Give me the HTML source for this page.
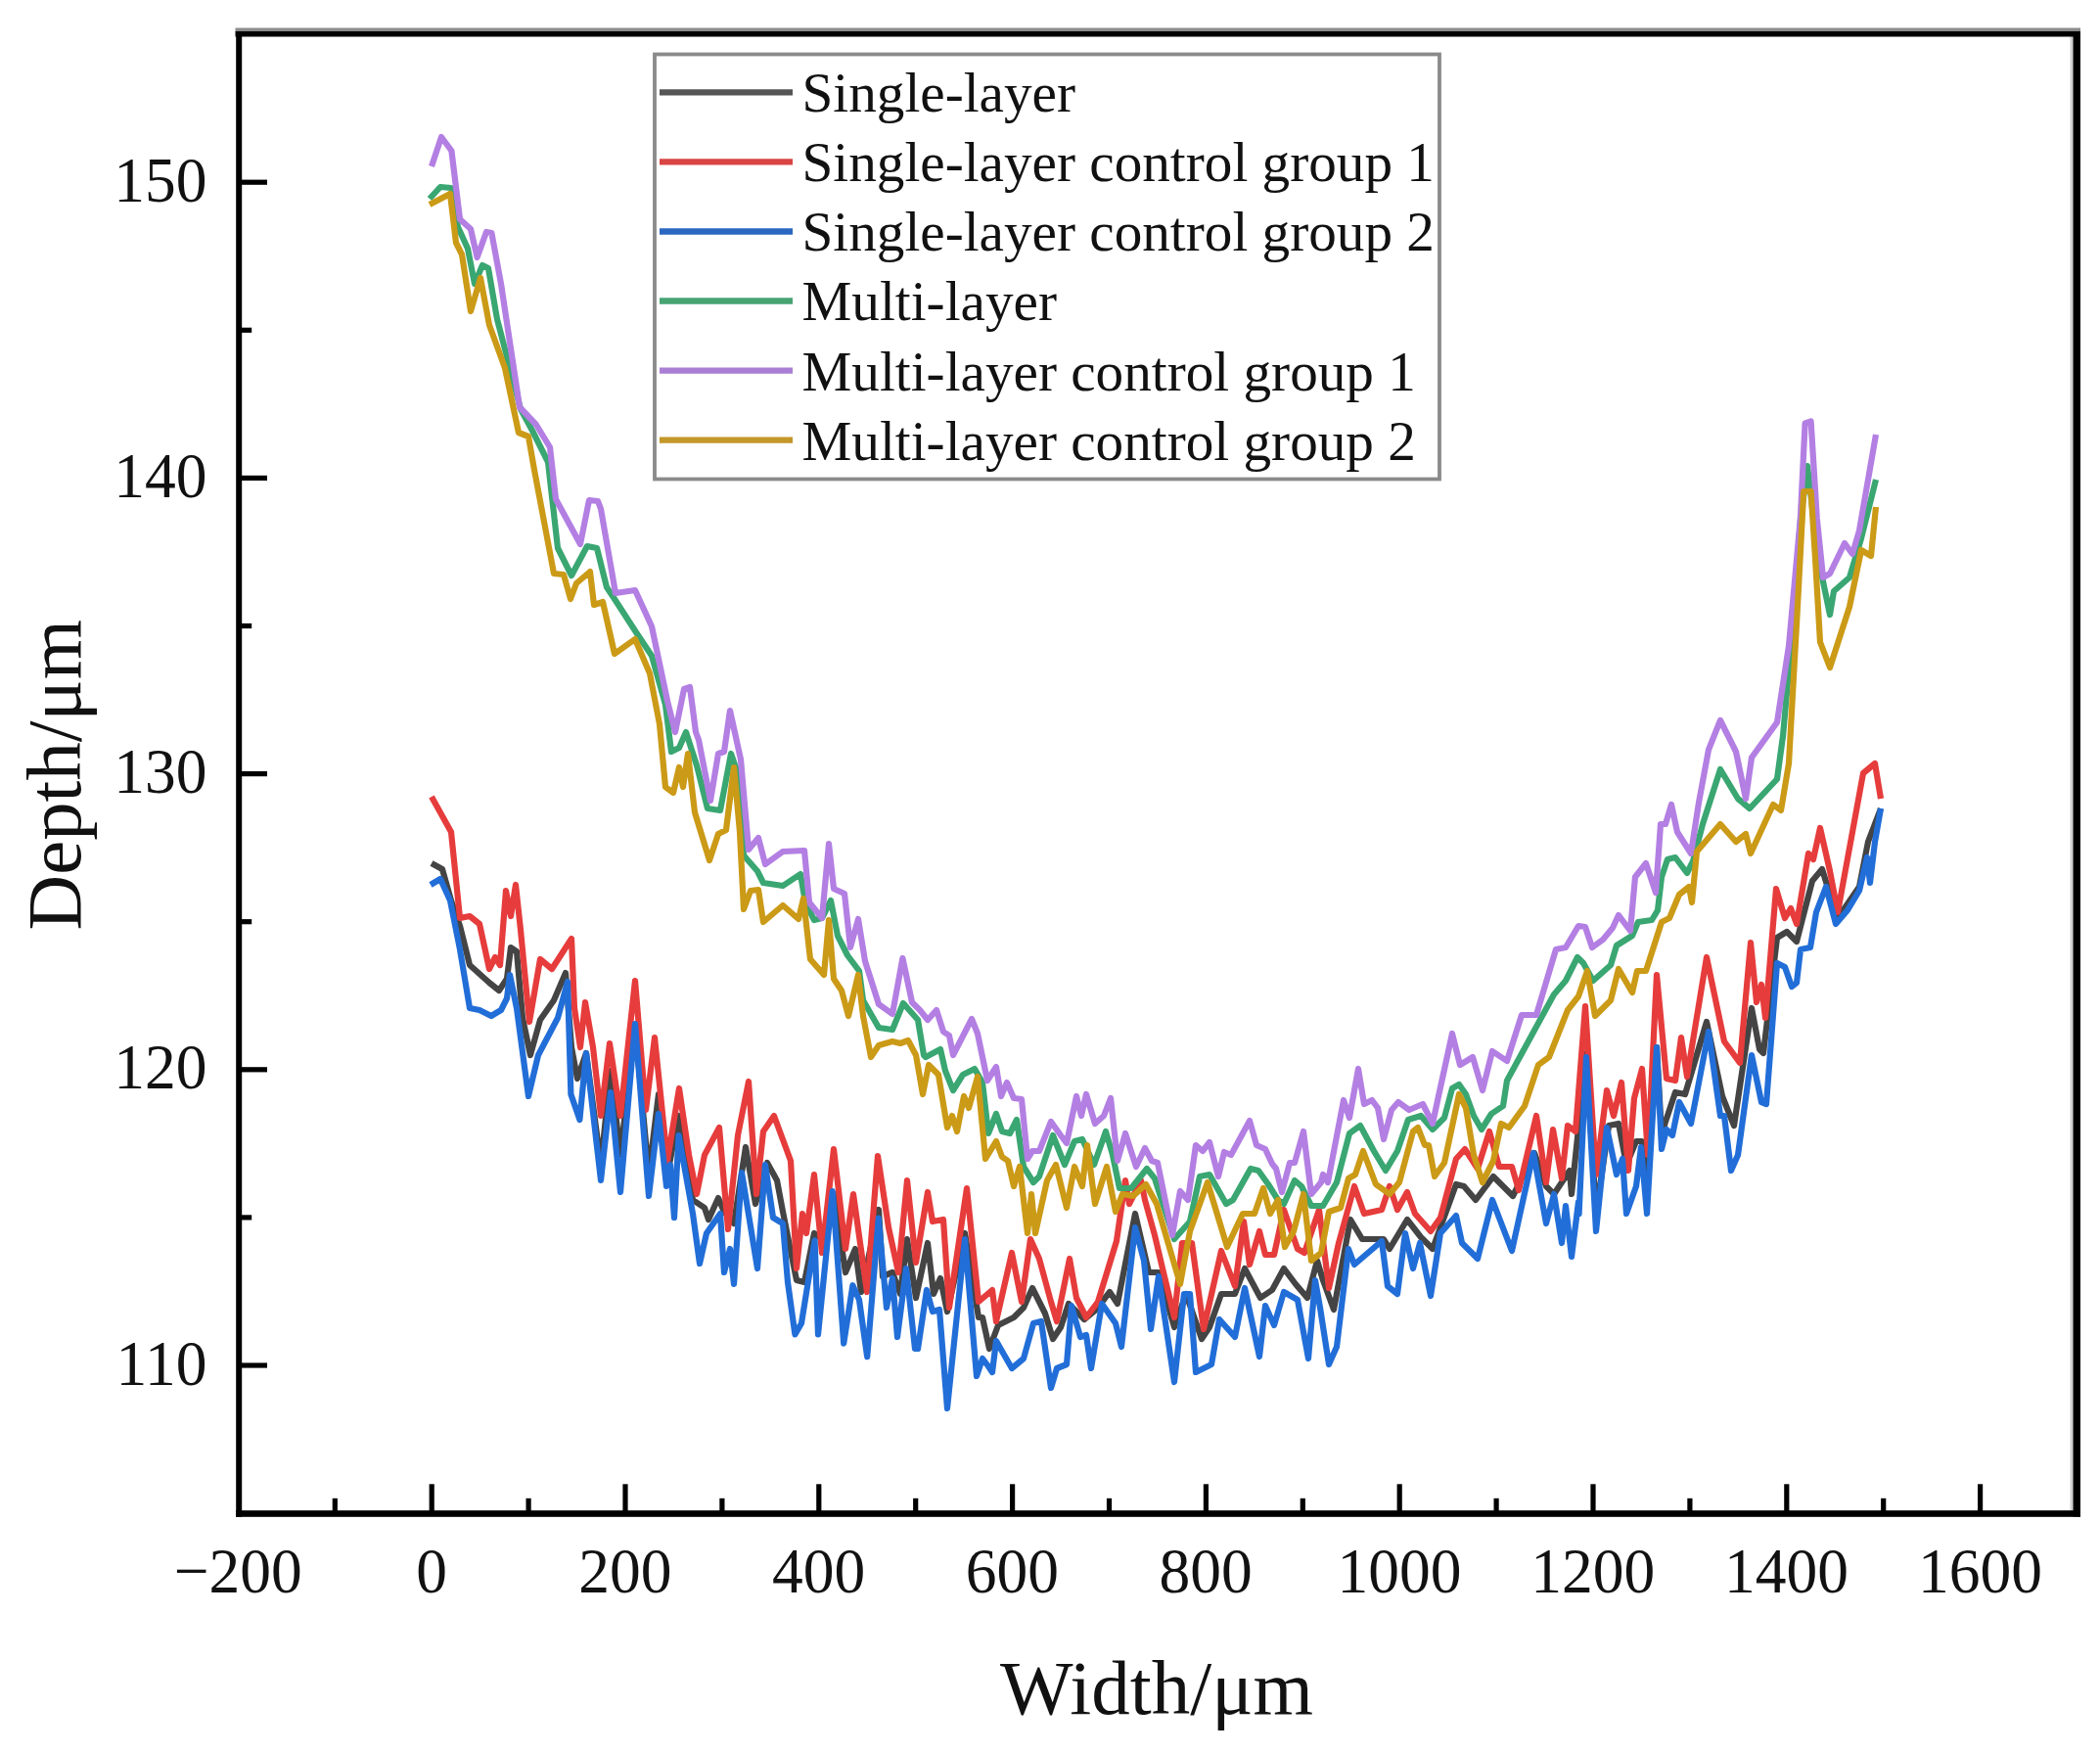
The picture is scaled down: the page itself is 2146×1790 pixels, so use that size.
<!DOCTYPE html><html><head><meta charset="utf-8"><title>Depth vs Width</title>
<style>html,body{margin:0;padding:0;background:#fff}svg{display:block;filter:blur(0.7px)}text{font-family:"Liberation Serif",serif;fill:#111}</style></head><body>
<svg width="2146" height="1790" viewBox="0 0 2146 1790">
<rect width="2146" height="1790" fill="#fff"/>
<g fill="none" stroke-width="6.2" stroke-linejoin="round" stroke-linecap="butt">
<polyline stroke="#444444" points="441.0,882.0 452.0,888.0 461.0,920.0 470.0,946.0 480.0,986.0 500.0,1004.0 510.0,1012.0 518.0,1000.0 522.0,968.0 528.0,972.0 534.0,1040.0 542.0,1078.0 552.0,1042.0 566.0,1022.0 578.0,994.0 584.0,1070.0 590.0,1102.0 599.0,1076.0 614.0,1190.0 624.0,1094.0 634.0,1180.0 649.0,1048.0 663.0,1200.0 673.0,1118.0 682.0,1200.0 693.6,1140.0 708.0,1226.0 720.0,1234.0 724.0,1246.0 734.0,1224.0 740.0,1238.0 750.0,1250.0 762.0,1172.0 772.0,1230.0 784.0,1188.0 794.0,1206.0 800.0,1238.0 814.0,1308.0 822.0,1310.0 832.0,1260.0 840.0,1266.0 852.0,1220.0 864.0,1300.0 874.0,1276.0 880.0,1320.0 898.0,1236.0 902.0,1304.0 912.0,1300.0 920.0,1322.0 927.0,1266.0 936.0,1326.0 948.0,1270.0 954.0,1322.0 961.0,1306.0 968.0,1340.0 986.0,1260.0 1000.0,1346.0 1004.0,1346.0 1011.0,1378.0 1020.0,1354.0 1036.0,1346.0 1046.0,1336.0 1055.0,1316.0 1068.0,1342.0 1076.0,1368.0 1084.0,1356.0 1092.0,1332.0 1108.0,1348.0 1120.0,1338.0 1134.0,1320.0 1142.0,1332.0 1160.0,1240.0 1174.0,1300.0 1184.0,1300.0 1200.0,1356.0 1212.0,1322.0 1228.0,1368.0 1236.0,1356.0 1248.0,1322.0 1262.0,1322.0 1272.0,1296.0 1288.0,1326.0 1300.0,1318.0 1312.0,1296.0 1324.0,1312.0 1336.0,1326.0 1346.0,1288.0 1352.0,1308.0 1363.0,1338.0 1380.0,1246.0 1392.0,1266.0 1414.0,1266.0 1420.0,1276.0 1438.0,1246.0 1452.0,1264.0 1464.0,1276.0 1472.0,1254.0 1488.0,1210.0 1496.0,1212.0 1508.0,1226.0 1526.0,1202.0 1546.0,1222.0 1568.0,1178.0 1580.0,1212.0 1588.0,1220.0 1596.0,1208.0 1604.0,1196.0 1606.0,1220.0 1621.0,1076.0 1631.0,1240.0 1644.0,1150.0 1654.0,1148.0 1662.0,1190.0 1672.0,1166.0 1678.0,1166.0 1684.0,1200.0 1693.0,1070.0 1698.0,1160.0 1702.0,1146.0 1712.0,1116.0 1722.0,1118.0 1744.0,1044.0 1760.0,1120.0 1772.0,1150.0 1790.0,1030.0 1798.0,1072.0 1802.0,1076.0 1816.0,958.0 1826.0,952.0 1836.0,962.0 1852.0,900.0 1862.0,888.0 1872.0,920.0 1878.0,938.0 1900.0,906.0 1909.0,860.0 1922.0,826.0"/>
<polyline stroke="#e63c3c" points="441.0,814.0 451.0,832.0 461.0,850.0 470.0,938.0 480.0,936.0 490.0,944.0 500.0,990.0 506.0,978.0 511.0,986.0 517.0,910.0 522.0,936.0 527.0,904.0 532.0,950.0 541.0,1044.0 552.0,980.0 564.0,990.0 584.0,959.0 587.0,1030.0 593.0,1070.0 598.0,1024.0 606.0,1070.0 614.0,1140.0 623.0,1066.0 634.0,1140.0 649.0,1002.0 660.0,1134.0 669.0,1060.0 682.0,1186.0 694.0,1112.0 704.0,1180.0 712.0,1220.0 720.0,1180.0 735.0,1152.0 744.0,1256.0 754.0,1160.0 765.0,1105.0 773.0,1220.0 780.0,1156.0 791.0,1140.0 808.0,1186.0 814.0,1296.0 820.0,1240.0 824.0,1260.0 832.0,1200.0 840.0,1280.0 852.0,1174.0 864.0,1276.0 872.0,1220.0 886.0,1320.0 897.0,1181.0 908.0,1254.0 918.0,1300.0 927.0,1206.0 936.0,1290.0 948.0,1218.0 953.0,1248.0 964.0,1246.0 970.0,1336.0 988.0,1214.0 1000.0,1330.0 1014.0,1318.0 1018.0,1350.0 1034.0,1280.0 1044.0,1330.0 1053.0,1266.0 1062.0,1286.0 1074.0,1330.0 1080.0,1350.0 1093.0,1286.0 1100.0,1326.0 1110.0,1346.0 1122.0,1330.0 1141.0,1268.0 1150.0,1206.0 1154.0,1230.0 1166.0,1206.0 1170.0,1226.0 1180.0,1262.0 1188.0,1296.0 1200.0,1346.0 1208.0,1270.0 1218.0,1270.0 1230.0,1358.0 1248.0,1278.0 1262.0,1314.0 1271.0,1248.0 1277.0,1292.0 1287.0,1258.0 1293.0,1282.0 1302.0,1282.0 1312.0,1236.0 1326.0,1276.0 1333.0,1280.0 1348.0,1236.0 1358.0,1316.0 1368.0,1270.0 1384.0,1212.0 1394.0,1240.0 1412.0,1236.0 1420.0,1212.0 1428.0,1236.0 1438.0,1218.0 1446.0,1240.0 1462.0,1258.0 1472.0,1244.0 1488.0,1184.0 1497.0,1174.0 1510.0,1194.0 1522.0,1156.0 1532.0,1192.0 1545.0,1192.0 1552.0,1216.0 1570.0,1140.0 1580.0,1208.0 1587.0,1154.0 1596.0,1204.0 1602.0,1150.0 1610.0,1156.0 1620.0,1028.0 1631.0,1200.0 1642.0,1114.0 1649.0,1140.0 1657.0,1106.0 1664.0,1196.0 1670.0,1122.0 1678.0,1092.0 1684.0,1180.0 1693.0,996.0 1703.0,1102.0 1712.0,1104.0 1718.0,1060.0 1724.0,1100.0 1744.0,978.0 1762.0,1064.0 1778.0,1086.0 1789.0,963.0 1795.0,1024.0 1800.0,1006.0 1804.0,1040.0 1815.0,908.0 1824.0,938.0 1830.0,928.0 1836.0,944.0 1848.0,872.0 1853.0,878.0 1860.0,846.0 1870.0,890.0 1878.0,932.0 1904.0,790.0 1916.0,780.0 1922.0,816.0"/>
<polyline stroke="#226ed8" points="440.0,904.0 450.0,898.0 460.0,920.0 470.0,970.0 480.0,1030.0 490.0,1032.0 502.0,1038.0 512.0,1032.0 518.0,1020.0 521.0,996.0 528.0,1030.0 540.0,1120.0 550.0,1078.0 570.0,1040.0 580.0,1003.0 583.4,1118.0 592.4,1144.0 599.0,1076.0 614.0,1206.0 624.0,1116.0 634.0,1218.0 649.0,1046.0 663.0,1222.0 673.0,1138.0 681.0,1212.0 685.0,1190.0 689.0,1244.0 693.6,1160.0 708.0,1240.0 715.0,1291.0 722.0,1260.0 736.0,1240.0 740.0,1300.0 746.0,1276.0 750.0,1312.0 758.0,1198.0 774.0,1296.0 782.0,1190.0 790.0,1244.0 800.0,1250.0 805.0,1310.0 812.4,1363.4 819.0,1352.0 832.6,1267.4 836.0,1363.4 850.8,1217.2 862.2,1372.6 871.4,1313.2 878.0,1328.0 886.2,1386.2 897.8,1244.6 906.0,1336.0 912.0,1306.0 917.0,1366.0 926.0,1296.0 935.0,1378.0 938.0,1378.0 947.0,1318.0 953.0,1340.0 960.0,1338.0 968.0,1439.0 986.0,1266.0 998.0,1406.0 1004.0,1388.0 1010.0,1396.0 1014.0,1402.0 1018.0,1370.0 1034.0,1398.0 1046.0,1388.0 1056.0,1352.0 1064.0,1350.0 1074.0,1418.0 1080.0,1398.0 1090.0,1394.0 1095.0,1334.0 1104.0,1366.0 1110.0,1364.0 1115.0,1398.0 1126.0,1332.0 1140.0,1352.0 1146.0,1376.0 1160.0,1254.0 1169.0,1288.0 1176.0,1358.0 1184.0,1304.0 1200.0,1412.0 1210.0,1322.0 1216.0,1322.0 1222.0,1402.0 1238.0,1394.0 1246.0,1348.0 1262.0,1366.0 1272.0,1316.0 1287.0,1386.0 1293.0,1334.0 1302.0,1354.0 1312.0,1320.0 1326.0,1328.0 1337.0,1388.0 1344.0,1308.0 1349.0,1336.0 1358.0,1394.0 1366.0,1376.0 1378.0,1276.0 1384.0,1292.0 1412.0,1268.0 1418.0,1314.0 1428.0,1322.0 1436.0,1260.0 1444.0,1296.0 1451.0,1270.0 1462.0,1324.0 1472.0,1260.0 1488.0,1242.0 1494.0,1270.0 1510.0,1286.0 1525.0,1226.0 1545.0,1278.0 1567.0,1178.0 1580.0,1250.0 1588.0,1220.0 1596.0,1270.0 1600.0,1232.0 1606.0,1284.0 1613.0,1228.0 1613.6,1240.0 1621.0,1080.0 1631.0,1258.0 1642.0,1152.0 1652.0,1200.0 1658.0,1184.0 1662.0,1240.0 1672.0,1212.0 1677.0,1172.0 1683.0,1240.0 1693.0,1070.0 1698.0,1174.0 1703.0,1154.0 1709.0,1160.0 1716.0,1126.0 1728.0,1148.0 1746.0,1054.0 1758.0,1140.0 1762.0,1140.0 1769.0,1196.0 1776.0,1180.0 1790.0,1078.0 1800.0,1126.0 1805.0,1128.0 1816.0,984.0 1824.0,988.0 1831.0,1008.0 1836.0,1004.0 1840.0,970.0 1850.0,968.0 1856.0,932.0 1866.0,906.0 1876.0,944.0 1888.0,930.0 1900.0,910.0 1908.0,876.0 1911.0,902.0 1916.0,860.0 1922.0,826.0"/>
<polyline stroke="#3aa672" points="439.0,203.0 450.0,191.0 461.0,192.0 468.0,232.0 478.0,254.0 485.0,290.0 493.0,271.0 499.0,274.0 508.0,326.0 532.0,418.0 544.0,440.0 560.0,472.0 570.0,560.0 584.0,588.0 600.0,558.0 610.0,560.0 620.0,600.0 628.0,612.0 650.0,646.0 666.0,670.0 680.0,720.0 686.0,768.0 694.0,764.0 701.0,748.0 712.0,782.0 723.0,826.0 736.0,828.0 747.0,770.0 754.0,790.0 760.0,874.0 774.0,890.0 780.0,902.0 800.0,905.0 818.0,893.0 823.0,922.0 832.0,940.0 840.0,938.0 849.0,920.0 856.0,956.0 866.0,976.0 878.0,992.0 882.0,1022.0 898.0,1050.0 912.0,1052.0 923.0,1025.0 938.0,1042.0 944.0,1078.0 946.0,1080.0 961.0,1072.0 966.0,1094.0 974.0,1114.0 984.0,1098.0 996.0,1092.0 1004.0,1106.0 1010.0,1158.0 1018.0,1138.0 1024.0,1156.0 1032.0,1158.0 1039.0,1144.0 1046.0,1192.0 1056.0,1208.0 1062.0,1202.0 1076.0,1160.0 1088.0,1190.0 1098.0,1166.0 1106.0,1164.0 1118.0,1190.0 1130.0,1156.0 1137.0,1180.0 1144.0,1214.0 1156.0,1214.0 1172.0,1194.0 1180.0,1204.0 1200.0,1266.0 1216.0,1248.0 1226.0,1202.0 1236.0,1200.0 1253.0,1230.0 1260.0,1226.0 1278.0,1194.0 1286.0,1196.0 1296.0,1210.0 1306.0,1226.0 1312.0,1230.0 1323.0,1206.0 1330.0,1212.0 1340.0,1232.0 1350.0,1232.0 1352.0,1232.0 1366.0,1208.0 1379.0,1158.0 1390.0,1150.0 1404.0,1176.0 1416.0,1196.0 1428.0,1176.0 1439.0,1144.0 1452.0,1140.0 1464.0,1154.0 1476.0,1142.0 1484.0,1112.0 1491.0,1108.0 1498.0,1118.0 1506.0,1140.0 1514.0,1154.0 1524.0,1138.0 1536.0,1130.0 1540.0,1104.0 1588.0,1016.0 1600.0,1002.0 1612.0,978.0 1618.0,984.0 1628.0,1002.0 1646.0,986.0 1652.0,966.0 1668.0,956.0 1674.0,942.0 1688.0,940.0 1694.0,930.0 1698.0,896.0 1704.0,878.0 1712.0,876.0 1724.0,892.0 1730.0,880.0 1740.0,842.0 1758.0,786.0 1776.0,816.0 1788.0,826.0 1816.0,796.0 1822.0,752.0 1832.0,640.0 1840.0,530.0 1847.0,476.0 1858.0,570.0 1870.0,628.0 1874.0,604.0 1890.0,590.0 1902.0,550.0 1917.0,490.0"/>
<polyline stroke="#b37fe3" points="441.0,170.0 451.0,140.0 461.4,154.0 470.0,224.0 481.0,234.0 487.6,263.0 497.0,237.0 502.4,238.0 512.0,290.0 531.0,416.0 548.0,434.0 562.0,457.0 568.0,510.0 593.0,556.0 602.0,511.0 611.0,512.0 614.0,520.0 629.0,606.0 649.0,603.0 666.0,640.0 682.0,716.0 690.0,748.0 699.0,704.0 705.0,702.0 711.0,748.0 714.0,756.0 726.0,818.0 734.0,770.0 740.0,768.0 746.0,726.0 757.0,776.0 765.0,868.0 775.0,856.0 782.0,883.0 800.0,870.0 822.0,869.0 827.0,922.0 840.0,938.0 847.0,862.0 852.0,908.0 863.0,913.0 869.0,968.0 877.0,939.0 884.0,982.0 898.0,1026.0 912.0,1036.0 922.4,979.0 932.0,1024.0 940.0,1032.0 948.0,1042.0 957.0,1032.0 964.0,1054.0 970.0,1058.0 974.0,1078.0 993.0,1041.0 999.0,1056.0 1009.0,1104.0 1018.0,1090.0 1023.0,1120.0 1029.0,1106.0 1036.0,1122.0 1044.0,1123.0 1050.0,1184.0 1055.0,1176.0 1062.0,1176.0 1074.0,1146.0 1084.0,1160.0 1090.0,1168.0 1100.0,1120.0 1105.0,1140.0 1110.0,1118.0 1119.0,1148.0 1128.0,1140.0 1135.0,1122.0 1142.0,1186.0 1150.0,1158.0 1161.0,1192.0 1170.0,1173.0 1177.0,1186.0 1183.0,1188.0 1198.0,1262.0 1206.0,1217.0 1214.0,1226.0 1222.0,1170.0 1229.0,1176.0 1236.0,1167.0 1245.0,1202.0 1251.0,1177.0 1258.0,1180.0 1277.0,1145.0 1284.0,1170.0 1293.0,1174.0 1300.0,1189.0 1304.0,1194.0 1310.0,1218.0 1318.0,1188.0 1323.0,1188.0 1332.0,1156.0 1340.0,1220.0 1350.0,1208.0 1352.0,1200.0 1357.0,1208.0 1373.0,1124.0 1379.0,1142.0 1388.0,1092.0 1394.0,1128.0 1402.0,1124.0 1408.0,1132.0 1414.0,1164.0 1422.0,1134.0 1429.0,1126.0 1440.0,1134.0 1454.0,1128.0 1464.0,1148.0 1470.0,1120.0 1484.0,1056.0 1492.0,1088.0 1505.0,1080.0 1515.0,1114.0 1525.0,1074.0 1540.0,1084.0 1555.0,1037.0 1570.0,1037.0 1590.0,970.0 1600.0,968.0 1613.0,946.0 1620.0,947.0 1627.0,968.0 1638.0,960.0 1648.0,948.0 1654.0,935.0 1666.0,951.0 1671.0,896.0 1682.0,882.0 1692.0,912.0 1697.0,842.0 1702.0,842.0 1708.0,822.0 1714.0,850.0 1728.0,872.0 1736.0,820.0 1746.0,766.0 1758.0,736.0 1774.0,768.0 1784.0,816.0 1790.0,774.0 1816.0,738.0 1828.0,660.0 1839.8,530.0 1844.6,432.4 1850.6,430.4 1856.8,530.0 1863.0,590.0 1870.0,586.0 1885.0,555.0 1893.0,566.0 1900.0,542.0 1917.0,444.0"/>
<polyline stroke="#cb9a16" points="439.0,209.0 460.0,198.0 466.0,248.0 472.0,260.0 481.0,318.0 491.0,284.0 500.0,332.0 516.0,376.0 530.0,442.0 540.0,446.0 546.0,480.0 566.0,586.0 576.0,587.0 583.0,612.0 589.0,596.0 603.0,584.0 607.0,618.0 616.0,615.0 628.0,668.0 649.0,653.0 664.0,688.0 674.0,740.0 680.0,804.0 688.0,810.0 694.0,784.0 698.0,804.0 703.0,770.0 710.0,830.0 725.0,879.0 734.0,852.0 742.0,848.0 750.0,784.0 756.0,850.0 760.0,929.0 767.0,910.0 775.0,909.0 780.0,942.0 800.0,925.0 816.0,939.0 821.0,918.0 828.0,980.0 842.0,996.0 847.0,940.0 852.0,1000.0 860.0,1012.0 867.0,1038.0 877.0,996.0 882.0,1038.0 890.0,1080.0 898.0,1068.0 912.0,1064.0 920.0,1066.0 928.0,1063.0 936.0,1078.0 943.0,1118.0 949.0,1088.0 959.0,1098.0 968.0,1152.0 973.0,1140.0 978.0,1156.0 985.0,1120.0 990.0,1132.0 999.0,1100.0 1007.0,1184.0 1018.0,1166.0 1024.0,1182.0 1030.0,1186.0 1036.0,1212.0 1042.0,1192.0 1050.0,1260.0 1054.0,1220.0 1058.0,1260.0 1070.0,1206.0 1079.0,1190.0 1090.0,1234.0 1098.0,1192.0 1106.0,1212.0 1111.0,1170.0 1119.0,1230.0 1131.0,1192.0 1140.0,1238.0 1147.0,1220.0 1158.0,1222.0 1171.0,1210.0 1182.0,1230.0 1206.0,1312.0 1216.0,1258.0 1234.0,1208.0 1254.0,1274.0 1270.0,1240.0 1282.0,1240.0 1291.0,1214.0 1298.0,1240.0 1306.0,1226.0 1313.0,1274.0 1322.0,1258.0 1332.0,1220.0 1340.0,1288.0 1350.0,1280.0 1358.0,1238.0 1370.0,1234.0 1378.0,1204.0 1385.0,1200.0 1393.0,1176.0 1406.0,1210.0 1420.0,1220.0 1430.0,1208.0 1444.0,1156.0 1449.0,1152.0 1456.0,1170.0 1460.0,1170.0 1466.0,1202.0 1476.0,1188.0 1491.0,1118.0 1498.0,1132.0 1506.0,1180.0 1515.0,1208.0 1526.0,1186.0 1534.0,1148.0 1542.0,1152.0 1558.0,1130.0 1572.0,1088.0 1583.0,1080.0 1602.0,1032.0 1613.0,1018.0 1622.0,992.0 1630.0,1038.0 1646.0,1022.0 1654.0,990.0 1668.0,1014.0 1673.0,992.0 1682.0,992.0 1698.0,942.0 1706.0,938.0 1716.0,914.0 1726.0,906.0 1729.0,922.0 1734.0,870.0 1758.0,842.0 1774.0,860.0 1784.0,852.0 1789.0,872.0 1812.0,822.0 1820.0,828.0 1828.0,780.0 1836.4,630.0 1843.2,502.0 1850.6,502.0 1855.0,570.0 1860.0,656.0 1870.0,682.0 1890.0,620.0 1902.0,562.0 1912.0,568.0 1917.0,518.0"/>
</g>
<g stroke="#000" fill="none">
<rect x="240.5" y="28.5" width="1885.5" height="4" fill="#8c8c8c" stroke="none"/>
<rect x="2115.5" y="36" width="3" height="1508" fill="#d0d0d0" stroke="none"/>
<rect x="240.5" y="32" width="1885.5" height="5.5" fill="#000" stroke="none"/>
<rect x="241.2" y="32" width="6" height="1517.8" fill="#000" stroke="none"/>
<rect x="241.2" y="1543.2" width="1884.8" height="6.6" fill="#000" stroke="none"/>
<rect x="2118.5" y="32" width="7.5" height="1517.5" fill="#000" stroke="none"/>
<line x1="342.3" y1="1545" x2="342.3" y2="1530.8" stroke-width="5.2"/>
<line x1="441.2" y1="1545" x2="441.2" y2="1516.3" stroke-width="5.2"/>
<line x1="540.1" y1="1545" x2="540.1" y2="1530.8" stroke-width="5.2"/>
<line x1="639.0" y1="1545" x2="639.0" y2="1516.3" stroke-width="5.2"/>
<line x1="737.9" y1="1545" x2="737.9" y2="1530.8" stroke-width="5.2"/>
<line x1="836.8" y1="1545" x2="836.8" y2="1516.3" stroke-width="5.2"/>
<line x1="935.7" y1="1545" x2="935.7" y2="1530.8" stroke-width="5.2"/>
<line x1="1034.6" y1="1545" x2="1034.6" y2="1516.3" stroke-width="5.2"/>
<line x1="1133.5" y1="1545" x2="1133.5" y2="1530.8" stroke-width="5.2"/>
<line x1="1232.4" y1="1545" x2="1232.4" y2="1516.3" stroke-width="5.2"/>
<line x1="1331.3" y1="1545" x2="1331.3" y2="1530.8" stroke-width="5.2"/>
<line x1="1430.2" y1="1545" x2="1430.2" y2="1516.3" stroke-width="5.2"/>
<line x1="1529.1" y1="1545" x2="1529.1" y2="1530.8" stroke-width="5.2"/>
<line x1="1628.0" y1="1545" x2="1628.0" y2="1516.3" stroke-width="5.2"/>
<line x1="1726.9" y1="1545" x2="1726.9" y2="1530.8" stroke-width="5.2"/>
<line x1="1825.8" y1="1545" x2="1825.8" y2="1516.3" stroke-width="5.2"/>
<line x1="1924.7" y1="1545" x2="1924.7" y2="1530.8" stroke-width="5.2"/>
<line x1="2023.6" y1="1545" x2="2023.6" y2="1516.3" stroke-width="5.2"/>
<line x1="244" y1="1395.0" x2="273.0" y2="1395.0" stroke-width="5.2"/>
<line x1="244" y1="1243.9" x2="257.2" y2="1243.9" stroke-width="5.2"/>
<line x1="244" y1="1092.8" x2="273.0" y2="1092.8" stroke-width="5.2"/>
<line x1="244" y1="941.7" x2="257.2" y2="941.7" stroke-width="5.2"/>
<line x1="244" y1="790.6" x2="273.0" y2="790.6" stroke-width="5.2"/>
<line x1="244" y1="639.5" x2="257.2" y2="639.5" stroke-width="5.2"/>
<line x1="244" y1="488.4" x2="273.0" y2="488.4" stroke-width="5.2"/>
<line x1="244" y1="337.3" x2="257.2" y2="337.3" stroke-width="5.2"/>
<line x1="244" y1="186.2" x2="273.0" y2="186.2" stroke-width="5.2"/>
</g>
<g font-size="66" text-anchor="middle">
<text transform="translate(243.2,1627) scale(0.962,1)">−200</text>
<text transform="translate(441.0,1627) scale(0.962,1)">0</text>
<text transform="translate(638.8,1627) scale(0.962,1)">200</text>
<text transform="translate(836.6,1627) scale(0.962,1)">400</text>
<text transform="translate(1034.4,1627) scale(0.962,1)">600</text>
<text transform="translate(1232.2,1627) scale(0.962,1)">800</text>
<text transform="translate(1430.0,1627) scale(0.962,1)">1000</text>
<text transform="translate(1627.8,1627) scale(0.962,1)">1200</text>
<text transform="translate(1825.6,1627) scale(0.962,1)">1400</text>
<text transform="translate(2023.4,1627) scale(0.962,1)">1600</text>
</g>
<g font-size="66" text-anchor="end">
<text transform="translate(211.5,1414.5) scale(0.962,1)">110</text>
<text transform="translate(211.5,1112.3) scale(0.962,1)">120</text>
<text transform="translate(211.5,810.1) scale(0.962,1)">130</text>
<text transform="translate(211.5,507.9) scale(0.962,1)">140</text>
<text transform="translate(211.5,205.7) scale(0.962,1)">150</text>
</g>
<text x="1182" y="1751" font-size="79" text-anchor="middle">Width/μm</text>
<text transform="translate(81.5,791.8) rotate(-90)" font-size="78.6" text-anchor="middle">Depth/μm</text>
<rect x="669" y="55.5" width="802" height="434" fill="#fff" stroke="#8a8a8a" stroke-width="3.8"/>
<line x1="674" y1="94.3" x2="810" y2="94.3" stroke="#555555" stroke-width="6.3"/>
<text x="819.5" y="114.2" font-size="57.2">Single-layer</text>
<line x1="674" y1="165.4" x2="810" y2="165.4" stroke="#d94444" stroke-width="6.3"/>
<text x="819.5" y="185.3" font-size="57.2">Single-layer control group 1</text>
<line x1="674" y1="236.5" x2="810" y2="236.5" stroke="#2a67c0" stroke-width="6.3"/>
<text x="819.5" y="256.4" font-size="57.2">Single-layer control group 2</text>
<line x1="674" y1="307.5" x2="810" y2="307.5" stroke="#46a372" stroke-width="6.3"/>
<text x="819.5" y="327.4" font-size="57.2">Multi-layer</text>
<line x1="674" y1="378.6" x2="810" y2="378.6" stroke="#ab7ed6" stroke-width="6.3"/>
<text x="819.5" y="398.5" font-size="57.2">Multi-layer control group 1</text>
<line x1="674" y1="449.7" x2="810" y2="449.7" stroke="#c39728" stroke-width="6.3"/>
<text x="819.5" y="469.6" font-size="57.2">Multi-layer control group 2</text>
</svg></body></html>
